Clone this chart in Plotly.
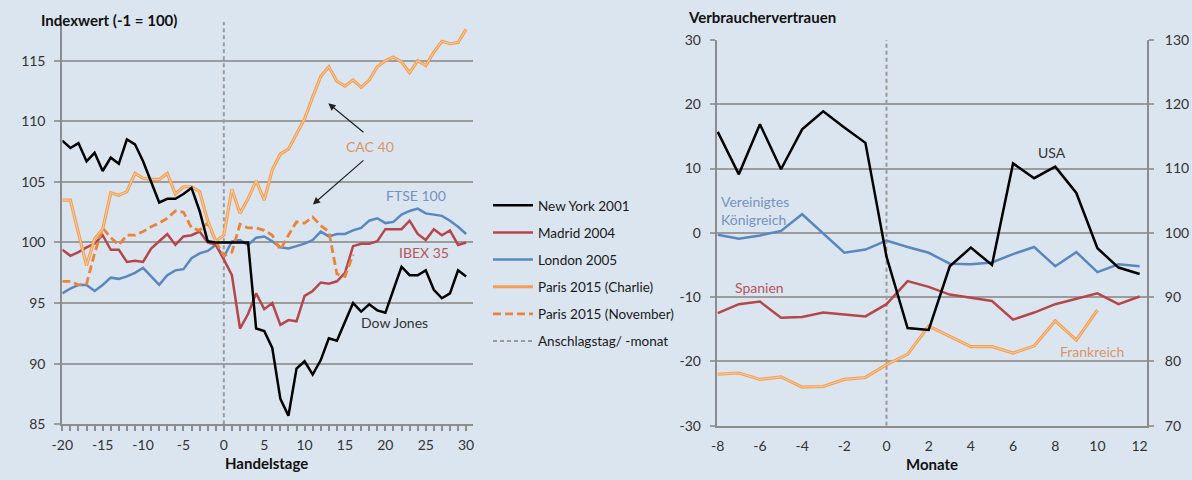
import plotly.graph_objects as go

# ---------------- data: left panel (stock indices) ----------------
days = list(range(-20, 31))
new_york_2001 = [108.4, 107.8, 108.2, 106.7, 107.4, 105.9, 107.0, 106.5, 108.5, 108.1,
                 106.7, 105.0, 103.3, 103.6, 103.6, 104.0, 104.5, 102.6, 100.1, 100.0,
                 100.0, 100.0, 100.0, 100.0, 92.9, 92.7, 91.3, 87.1, 85.7, 89.6,
                 90.2, 89.1, 90.3, 92.1, 91.9, 93.4, 95.0, 94.3, 94.9, 94.4,
                 94.2, 96.1, 98.0, 97.3, 97.3, 97.7, 96.1, 95.4, 95.8, 97.7, 97.2]
madrid_2004 = [99.4, 98.9, 99.2, 99.6, 99.9, 100.6, 99.4, 99.4, 98.4, 98.5,
               98.4, 99.5, 100.1, 100.7, 99.8, 100.5, 100.6, 100.9, 100.0, 99.8,
               98.6, 97.3, 92.9, 94.1, 95.8, 94.5, 95.0, 93.2, 93.6, 93.5,
               95.6, 96.0, 96.7, 96.6, 96.8, 97.5, 99.7, 99.9, 99.9, 100.1,
               101.1, 101.1, 101.1, 101.8, 100.7, 100.2, 101.1, 100.6, 101.0, 99.8, 100.0]
london_2005 = [95.8, 96.2, 96.5, 96.5, 96.0, 96.5, 97.1, 97.0, 97.2, 97.5,
               97.9, 97.2, 96.5, 97.3, 97.7, 97.8, 98.7, 99.1, 99.3, 99.8,
               98.8, 100.1, 100.2, 99.8, 100.4, 100.5, 100.1, 99.6, 99.5, 99.7,
               99.9, 100.2, 100.9, 100.5, 100.7, 100.7, 101.0, 101.2, 101.8, 102.0,
               101.6, 101.7, 102.3, 102.6, 102.8, 102.4, 102.3, 102.2, 101.8, 101.3, 100.7]
paris_charlie = [103.5, 103.5, 100.8, 98.1, 100.3, 101.1, 104.1, 103.9, 104.2, 105.7,
                 105.3, 105.2, 105.2, 105.7, 104.0, 104.6, 104.6, 104.2, 101.8, 100.1,
                 100.6, 104.4, 102.4, 103.6, 105.1, 103.5, 106.0, 107.3, 107.7, 109.0,
                 110.2, 112.0, 113.7, 114.5, 113.3, 112.9, 113.4, 112.8, 113.4, 114.5,
                 115.0, 115.3, 114.9, 114.0, 115.0, 114.6, 115.7, 116.6, 116.4, 116.5, 117.6]
days_november = list(range(-20, 17))
paris_november = [96.8, 96.8, 96.5, 96.6, 99.1, 101.2, 100.4, 99.8, 100.6, 100.6,
                  100.9, 101.3, 101.6, 102.0, 102.6, 102.5, 101.2, 101.0, 101.6, 100.1,
                  98.9, 99.2, 101.5, 101.2, 101.2, 101.0, 100.6, 99.4, 100.6, 101.7,
                  101.6, 102.1, 101.4, 100.9, 97.4, 97.2, 99.0]
left_event_x = [0, 0]
left_event_y = [85, 118.2]

# ---------------- data: right panel (consumer confidence) ----------------
months = list(range(-8, 13))
usa = [115.7, 109.1, 116.9, 109.9, 116.1, 118.9, 116.4, 114.0, 96.3, 85.2,
       84.9, 94.8, 97.7, 95.0, 110.8, 108.5, 110.3, 106.2, 97.6, 94.6, 93.6]
uk = [-0.3, -0.9, -0.4, 0.3, 2.9, -0.1, -3.1, -2.6, -1.2, -2.2,
      -3.1, -4.8, -4.9, -4.6, -3.3, -2.2, -5.2, -3.0, -6.1, -4.9, -5.2]
spain = [-12.5, -11.1, -10.7, -13.2, -13.1, -12.4, -12.7, -13.0, -11.1, -7.5,
         -8.4, -9.6, -10.1, -10.6, -13.5, -12.4, -11.1, -10.2, -9.4, -11.1, -9.9]
months_france = list(range(-8, 11))
france = [-22.0, -21.8, -22.8, -22.4, -24.0, -23.9, -22.8, -22.5, -20.5, -18.9,
          -14.5, -16.1, -17.7, -17.7, -18.7, -17.6, -13.7, -16.7, -12.0]
right_event_x = [0, 0]
right_event_y = [-30, 30]

# ---------------- tick values / labels ----------------
left_x_ticks = [-20, -15, -10, -5, 0, 5, 10, 15, 20, 25, 30]
left_x_labels = ["-20", "-15", "-10", "-5", "0", "5", "10", "15", "20", "25", "30"]
left_y_ticks = [85, 90, 95, 100, 105, 110, 115]
right_x_ticks = [-8, -6, -4, -2, 0, 2, 4, 6, 8, 10, 12]
right_x_labels = ["-8", "-6", "-4", "-2", "0", "2", "4", "6", "8", "10", "12"]
right_y_ticks = [-30, -20, -10, 0, 10, 20, 30]
right_y_labels = ["-30", "-20", "-10", "0", "10", "20", "30"]
right_y2_ticks = [70, 80, 90, 100, 110, 120, 130]

# ---------------- styling ----------------
BG = "#dbe5f0"
GRID = "#9c9c9c"
AXIS = "#8c8c8c"
TXT = "#333333"
FONT = "Lato"
C_BLACK = "#000000"
C_RED = "#b5474b"
C_BLUE = "#5a87bf"
C_ORANGE = "#f2a058"
C_ORANGE_IN = "#fcd2a2"
C_ORANGE_D = "#e8853a"
C_GREY = "#9a9a9a"

W, H = 1192, 480
def px_x(p):
    return p / W
def px_y(p):
    return 1 - p / H

fig = go.Figure()

# event lines (drawn first, under data)
fig.add_trace(go.Scatter(x=left_event_x, y=left_event_y, mode="lines",
                         line=dict(color=C_GREY, width=2, dash="4px,3px"),
                         name="Anschlagstag/ -monat", legendrank=6, legendgroup="g6",
                         xaxis="x", yaxis="y"))
fig.add_trace(go.Scatter(x=right_event_x, y=right_event_y, mode="lines",
                         line=dict(color=C_GREY, width=2, dash="4px,3px"),
                         showlegend=False, xaxis="x2", yaxis="y2"))

fig.add_trace(go.Scatter(x=days, y=london_2005, mode="lines", name="London 2005",
                         line=dict(color=C_BLUE, width=2.5), legendrank=3, legendgroup="g3"))
fig.add_trace(go.Scatter(x=days, y=madrid_2004, mode="lines", name="Madrid 2004",
                         line=dict(color=C_RED, width=2.5), legendrank=2, legendgroup="g2"))
fig.add_trace(go.Scatter(x=days_november, y=paris_november, mode="lines",
                         name="Paris 2015 (November)",
                         line=dict(color=C_ORANGE_D, width=2.8, dash="8px,4px"),
                         legendrank=5, legendgroup="g5"))
fig.add_trace(go.Scatter(x=days, y=paris_charlie, mode="lines", name="Paris 2015 (Charlie)",
                         line=dict(color=C_ORANGE, width=3.2), legendrank=4, legendgroup="g4"))
fig.add_trace(go.Scatter(x=days, y=paris_charlie, mode="lines", showlegend=False,
                         hoverinfo="skip", legendgroup="g4",
                         line=dict(color=C_ORANGE_IN, width=0.9)))
fig.add_trace(go.Scatter(x=days, y=new_york_2001, mode="lines", name="New York 2001",
                         line=dict(color=C_BLACK, width=2.5), legendrank=1, legendgroup="g1"))

# right panel
fig.add_trace(go.Scatter(x=months, y=uk, mode="lines", showlegend=False,
                         line=dict(color=C_BLUE, width=2.5), xaxis="x2", yaxis="y2"))
fig.add_trace(go.Scatter(x=months, y=spain, mode="lines", showlegend=False,
                         line=dict(color=C_RED, width=2.5), xaxis="x2", yaxis="y2"))
fig.add_trace(go.Scatter(x=months_france, y=france, mode="lines", showlegend=False,
                         line=dict(color=C_ORANGE, width=3.2), xaxis="x2", yaxis="y2"))
fig.add_trace(go.Scatter(x=months_france, y=france, mode="lines", showlegend=False,
                         hoverinfo="skip",
                         line=dict(color=C_ORANGE_IN, width=0.9), xaxis="x2", yaxis="y2"))
fig.add_trace(go.Scatter(x=months, y=usa, mode="lines", showlegend=False,
                         line=dict(color=C_BLACK, width=2.5), xaxis="x2", yaxis="y3"))

tickfont = dict(family=FONT, size=14, color=TXT)

fig.update_layout(
    width=W, height=H,
    margin=dict(l=0, r=0, t=0, b=0, autoexpand=False),
    paper_bgcolor=BG, plot_bgcolor=BG,
    font=dict(family=FONT, size=13, color=TXT),
    showlegend=True,
    legend=dict(x=px_x(488), y=px_y(190), xanchor="left", yanchor="top",
                bgcolor="rgba(0,0,0,0)", font=dict(family=FONT, size=13.5, color="#1a1a1a"),
                itemwidth=40, tracegroupgap=6.6, traceorder="grouped"),
    xaxis=dict(domain=[px_x(62.3), px_x(473)], range=[-20, 30.85],
               tickmode="array", tickvals=left_x_ticks, ticktext=left_x_labels,
               ticks="outside", ticklen=5, tickcolor=AXIS, tickwidth=1.5,
               minor=dict(dtick=1, tick0=0, ticks="outside", ticklen=5, tickcolor=AXIS, tickwidth=1.5),
               showline=True, linecolor=AXIS, linewidth=2, showgrid=False, zeroline=False,
               tickfont=tickfont, anchor="y", ticklabelstandoff=2, automargin=False),
    yaxis=dict(domain=[px_y(424.3), px_y(21.9)], range=[85, 118.2],
               tickmode="array", tickvals=left_y_ticks,
               ticks="outside", ticklen=6, tickcolor=GRID, tickwidth=2,
               showline=True, linecolor=AXIS, linewidth=2, showgrid=True, gridcolor=GRID,
               gridwidth=2, zeroline=False, tickfont=tickfont, anchor="x", ticklabelstandoff=6,
               automargin=False),
    xaxis2=dict(domain=[px_x(716.7), px_x(1147)], range=[-8.05, 12.35],
                tickmode="array", tickvals=right_x_ticks, ticktext=right_x_labels,
                ticks="", showline=True, linecolor=AXIS, linewidth=2,
                showgrid=False, zeroline=False, tickfont=tickfont, anchor="y2",
                ticklabelstandoff=6, automargin=False),
    yaxis2=dict(domain=[px_y(425.7), px_y(40)], range=[-30, 30],
                tickmode="array", tickvals=right_y_ticks, ticktext=right_y_labels,
                ticks="outside", ticklen=5, tickcolor=GRID, tickwidth=2,
                showline=True, linecolor=AXIS, linewidth=2, showgrid=True, gridcolor=GRID,
                gridwidth=2, zeroline=False, tickfont=tickfont, anchor="x2", ticklabelstandoff=6,
                automargin=False),
    yaxis3=dict(range=[70, 130], tickmode="array", tickvals=right_y2_ticks,
                overlaying="y2", side="right", anchor="x2",
                ticks="outside", ticklen=5, tickcolor=GRID, tickwidth=2,
                showline=True, linecolor=AXIS, linewidth=2, showgrid=False, zeroline=False,
                tickfont=tickfont, ticklabelstandoff=8, automargin=False),
)

bold = dict(family=FONT, size=15, color="#111111")
ann = [
    dict(text="<b>Indexwert (-1 = 100)</b>", x=px_x(39), y=px_y(20), xref="paper", yref="paper",
         xanchor="left", yanchor="middle", showarrow=False, font=bold),
    dict(text="<b>Handelstage</b>", x=px_x(266.7), y=px_y(462.7), xref="paper", yref="paper",
         xanchor="center", yanchor="middle", showarrow=False, font=bold),
    dict(text="<b>Verbrauchervertrauen</b>", x=px_x(686), y=px_y(17), xref="paper", yref="paper",
         xanchor="left", yanchor="middle", showarrow=False, font=bold),
    dict(text="<b>Monate</b>", x=px_x(932.3), y=px_y(463.5), xref="paper", yref="paper",
         xanchor="center", yanchor="middle", showarrow=False, font=bold),
    # left labels
    dict(text="CAC 40", x=18.08, y=107.94, xref="x", yref="y", showarrow=False,
         font=dict(family=FONT, size=14, color="#d9956a")),
    dict(text="FTSE 100", x=23.8, y=103.9, xref="x", yref="y", showarrow=False,
         font=dict(family=FONT, size=14, color="#7593bf")),
    dict(text="IBEX 35", x=24.8, y=99.2, xref="x", yref="y", showarrow=False,
         font=dict(family=FONT, size=14, color="#b5555a")),
    dict(text="Dow Jones", x=21.1, y=93.4, xref="x", yref="y", showarrow=False,
         font=dict(family=FONT, size=14, color="#333333")),
    dict(text="", x=12.93, y=111.48, ax=17.47, ay=109.0, xref="x", yref="y",
         axref="x", ayref="y", showarrow=True, arrowhead=2, arrowsize=1.2,
         arrowwidth=1.2, arrowcolor="#222222"),
    dict(text="", x=11.02, y=103.14, ax=17.47, ay=106.88, xref="x", yref="y",
         axref="x", ayref="y", showarrow=True, arrowhead=2, arrowsize=1.2,
         arrowwidth=1.2, arrowcolor="#222222"),
    # right labels
    dict(text="USA", x=7.86, y=12.5, xref="x2", yref="y2", showarrow=False,
         font=dict(family=FONT, size=14, color="#333333")),
    dict(text="Vereinigtes<br>Königreich", x=-6.23, y=3.5, xref="x2", yref="y2", showarrow=False,
         align="left", font=dict(family=FONT, size=14, color="#7593bf")),
    dict(text="Spanien", x=-6.0, y=-8.5, xref="x2", yref="y2", showarrow=False,
         font=dict(family=FONT, size=14, color="#b5555a")),
    dict(text="Frankreich", x=9.75, y=-18.4, xref="x2", yref="y2", showarrow=False,
         font=dict(family=FONT, size=14, color="#d9956a")),
]
fig.update_layout(annotations=ann)

fig.write_html(
    "out.html",
    config={"displayModeBar": False},
    post_script="document.body.style.margin='0';document.body.style.padding='0';"
                "document.body.style.background='" + BG + "';"
                "document.documentElement.style.background='" + BG + "';",
)
